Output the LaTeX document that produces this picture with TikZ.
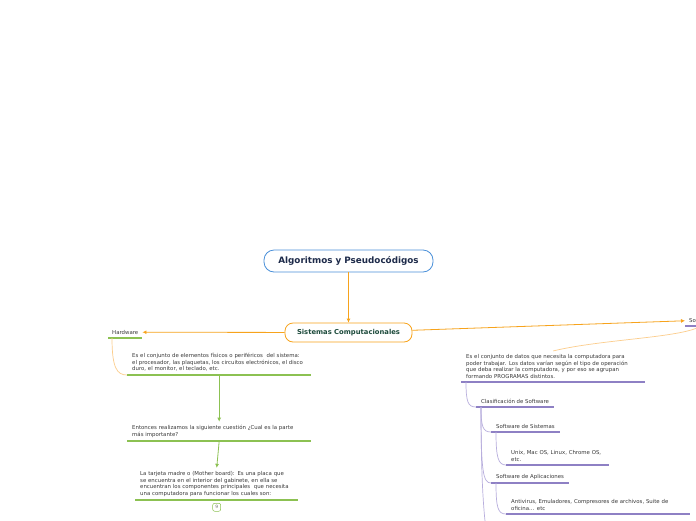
\documentclass[tikz,border=0pt]{standalone}
\usepackage{fontspec}
\setmainfont{DejaVu Sans}
\usepackage{xcolor}
\usetikzlibrary{arrows.meta,positioning,calc}
\definecolor{mapblue}{HTML}{4A90D9}
\definecolor{maporange}{HTML}{F7A31C}
\definecolor{maplight}{HTML}{FCCD8C}
\definecolor{mapgreen}{HTML}{8CC152}
\definecolor{mappurple}{HTML}{8E80C4}
\definecolor{maplilac}{HTML}{B8AEDD}
\definecolor{mapnavy}{HTML}{1E2B4A}
\definecolor{mapteal}{HTML}{1D4B3C}
\definecolor{maptext}{HTML}{3A3A3A}
\hyphenpenalty=10000

\begin{document}
\begin{tikzpicture}[
        x=1pt, y=-1pt,
        mainbox/.style={
          draw=mapblue,
          fill=white,
          rounded corners=10pt,
          minimum width=169pt,
          minimum height=22pt,
          font=\fontsize{8.8}{10}\selectfont\bfseries,
          text=mapnavy,
          line width=0.8pt
        },
        subbox/.style={
          draw=maporange,
          fill=white,
          rounded corners=8pt,
          minimum width=127pt,
          minimum height=19pt,
          font=\fontsize{6.8}{8}\selectfont\bfseries,
          text=mapteal,
          line width=0.8pt
        },
        topic/.style={
          anchor=south west,
          align=left,
          inner xsep=5pt,
          inner ysep=3.5pt,
          font=\fontsize{5.4}{6.5}\selectfont,
          text=maptext
        },
        badge/.style={
          draw=mapgreen,
          rounded corners=2pt,
          minimum width=8pt,
          minimum height=8pt,
          inner sep=0pt,
          font=\fontsize{4.5}{5}\selectfont,
          text=maptext!70,
          line width=0.5pt
        },
        arrow/.style={
          -{Latex[length=4pt,width=4pt]},
          line width=0.8pt,
          maporange
        },
        garrow/.style={
          -{Latex[length=4pt,width=4pt]},
          line width=0.8pt,
          mapgreen
        },
        gline/.style={line width=1.5pt, mapgreen},
        pline/.style={line width=1.5pt, mappurple},
        ocurve/.style={line width=0.7pt, maplight},
        pcurve/.style={line width=0.7pt, maplilac}
      ]

      \useasboundingbox[fill=white] (0,0) rectangle (696,520);

      \node[mainbox] (root) at (348.5,261) {Algoritmos y Pseudocódigos};

      \node[subbox] (sist) at (348.5,332.5) {Sistemas Computacionales};

      \node[topic, inner xsep=4pt] (hw) at (108,338) {Hardware};

      \node[topic, text width=174pt] (hwdesc) at (127,375) {
        Es el conjunto de elementos físicos o periféricos\ \ del sistema:\\
        el procesador, las plaquetas, los circuitos electrónicos, el disco\\
        duro, el monitor, el teclado, etc.
      };

      \node[topic, text width=174pt] (cuest) at (127,441) {
        Entonces realizamos la siguiente cuestión ¿Cual es la parte\\
        más importante?
      };

      \node[topic, text width=153pt] (tarjeta) at (135,500) {
        La tarjeta madre o (Mother board): Es una placa que\\
        se encuentra en el interior del gabinete, en ella se\\
        encuentran los componentes principales\ \ que necesita\\
        una computadora para funcionar los cuales son:
      };

      \node[badge, below=3pt of tarjeta] (nine) {9};

      \node[topic, inner xsep=4pt] (soft) at (685,326) {Software};

      \node[topic, text width=174pt] (swdesc) at (461,382) {
        Es el conjunto de datos que necesita la computadora para\\
        poder trabajar. Los datos varían según el tipo de operación\\
        que deba realizar la computadora, y por eso se agrupan\\
        formando PROGRAMAS distintos.
      };

      \node[topic] (clasif) at (476,407) {Clasificación de Software};

      \node[topic] (swsis) at (491,432) {Software de Sistemas};

      \node[topic, text width=93pt] (unix) at (506,465) {
        Unix, Mac OS, Linux, Chrome OS,\\
        etc.
      };

      \node[topic] (swapl) at (491,483) {Software de Aplicaciones};

      \node[topic, text width=174pt] (antiv) at (506,514) {
        Antivirus, Emuladores, Compresores de archivos, Suite de\\
        oficina... etc
      };

      \coordinate (more) at (492,575);

      \foreach \n in {hw,hwdesc,cuest,tarjeta}
        \draw[gline] (\n.south west) -- (\n.south east);
      \foreach \n in {soft,swdesc,clasif,swsis,unix,swapl,antiv}
        \draw[pline] (\n.south west) -- (\n.south east);

      \draw[arrow] (root) -- (sist);
      \draw[arrow] (sist) -- (hw);
      \draw[arrow] (sist) -- (soft);

      \draw[garrow] (hwdesc.south) -- (cuest.north);
      \draw[garrow] (cuest.south) -- (tarjeta.north);

      \draw[ocurve] ($(hw.south west)+(4,0)$) .. controls +(0,30) and +(-10,0) .. (hwdesc.south west);
      \draw[ocurve] (soft.south) .. controls +(-20,12) and +(50,-12) .. (swdesc.north);

      \draw[pcurve] ($(swdesc.south west)+(5,0)$) .. controls +(0,20) and +(-8,0) .. (clasif.south west);
      \draw[pcurve] ($(clasif.south west)+(5,0)$) .. controls +(0,20) and +(-8,0) .. (swsis.south west);
      \draw[pcurve] ($(clasif.south west)+(5,0)$) .. controls +(0,65) and +(-8,0) .. (swapl.south west);
      \draw[pcurve] ($(clasif.south west)+(5,0)$) .. controls +(0,120) and +(-4,-40) .. (more);
      \draw[pcurve] ($(swsis.south west)+(5,0)$) .. controls +(0,25) and +(-8,0) .. (unix.south west);
      \draw[pcurve] ($(swapl.south west)+(5,0)$) .. controls +(0,25) and +(-8,0) .. (antiv.south west);

      \end{tikzpicture}
\end{document}
